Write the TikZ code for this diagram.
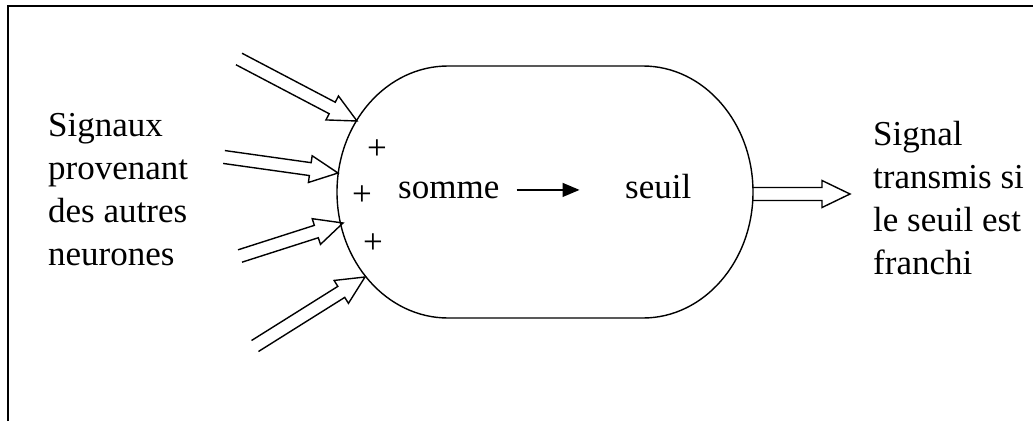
\documentclass[tikz,border=0pt]{standalone}
\usepackage{fontspec}
\setmainfont{Liberation Serif}
\usetikzlibrary{calc,arrows.meta}
% hollow double-shafted arrow from tail #1 to tip #2
\newcommand\hollowarrow[2]{%
  \coordinate (hb) at ($(#2)!28pt!(#1)$);
  \draw[outline]
    ($(#1)!6.5pt!90:(#2)$) -- ($(hb)!6.5pt!90:(#2)$) -- ($(hb)!13.5pt!90:(#2)$)
    -- (#2)
    -- ($(hb)!13.5pt!-90:(#2)$) -- ($(hb)!6.5pt!-90:(#2)$) -- ($(#1)!6.5pt!-90:(#2)$);
}
\begin{document}
\begin{tikzpicture}[x=1pt,y=-1pt,
  lbl/.style={font=\fontsize{35}{43}\selectfont, inner sep=0pt, align=left},
  outline/.style={line width=1.4pt, line join=miter},
  frameline/.style={line width=2.6pt},
  sumarrow/.style={line width=1.4pt, -{Triangle[length=17pt,width=14pt]}}]
\useasboundingbox (0,0) rectangle (1033,421);

% open frame (left and top edges)
\draw[frameline] (8,421) -- (8,6) -- (1033,6);

% cell body
\draw[outline] (448,66) -- (643,66)
  arc[start angle=-90, end angle=90, x radius=110, y radius=126]
  -- (448,318)
  arc[start angle=90, end angle=270, x radius=111, y radius=126] -- cycle;

% incoming signals
\coordinate (in1) at (239,59);  \coordinate (sy1) at (357,121);
\coordinate (in2) at (224,157); \coordinate (sy2) at (338,173);
\coordinate (in3) at (240,256); \coordinate (sy3) at (343,223);
\coordinate (in4) at (255,346); \coordinate (sy4) at (365,277);
\hollowarrow{in1}{sy1}
\hollowarrow{in2}{sy2}
\hollowarrow{in3}{sy3}
\hollowarrow{in4}{sy4}

% outgoing signal
\coordinate (axon) at (753,194); \coordinate (out) at (850,194);
\hollowarrow{axon}{out}

% labels (base anchor sits on the last line)
\node[lbl, anchor=base west] (inlbl) at (48,265) {Signaux\\provenant\\des autres\\neurones};
\node[lbl, anchor=base west] (outlbl) at (873,274) {Signal\\transmis si\\le seuil est\\franchi};

\node[lbl] (plus1) at (377,150) {+};
\node[lbl] (plus2) at (362,196) {+};
\node[lbl] (plus3) at (373,244) {+};

\node[lbl, anchor=base west] (somme) at (398,198) {somme};
\node[lbl, anchor=base west] (seuil) at (625,198) {seuil};
\draw[sumarrow] ([xshift=17pt]somme.east) -- ([xshift=80pt]somme.east);
\end{tikzpicture}
\end{document}
